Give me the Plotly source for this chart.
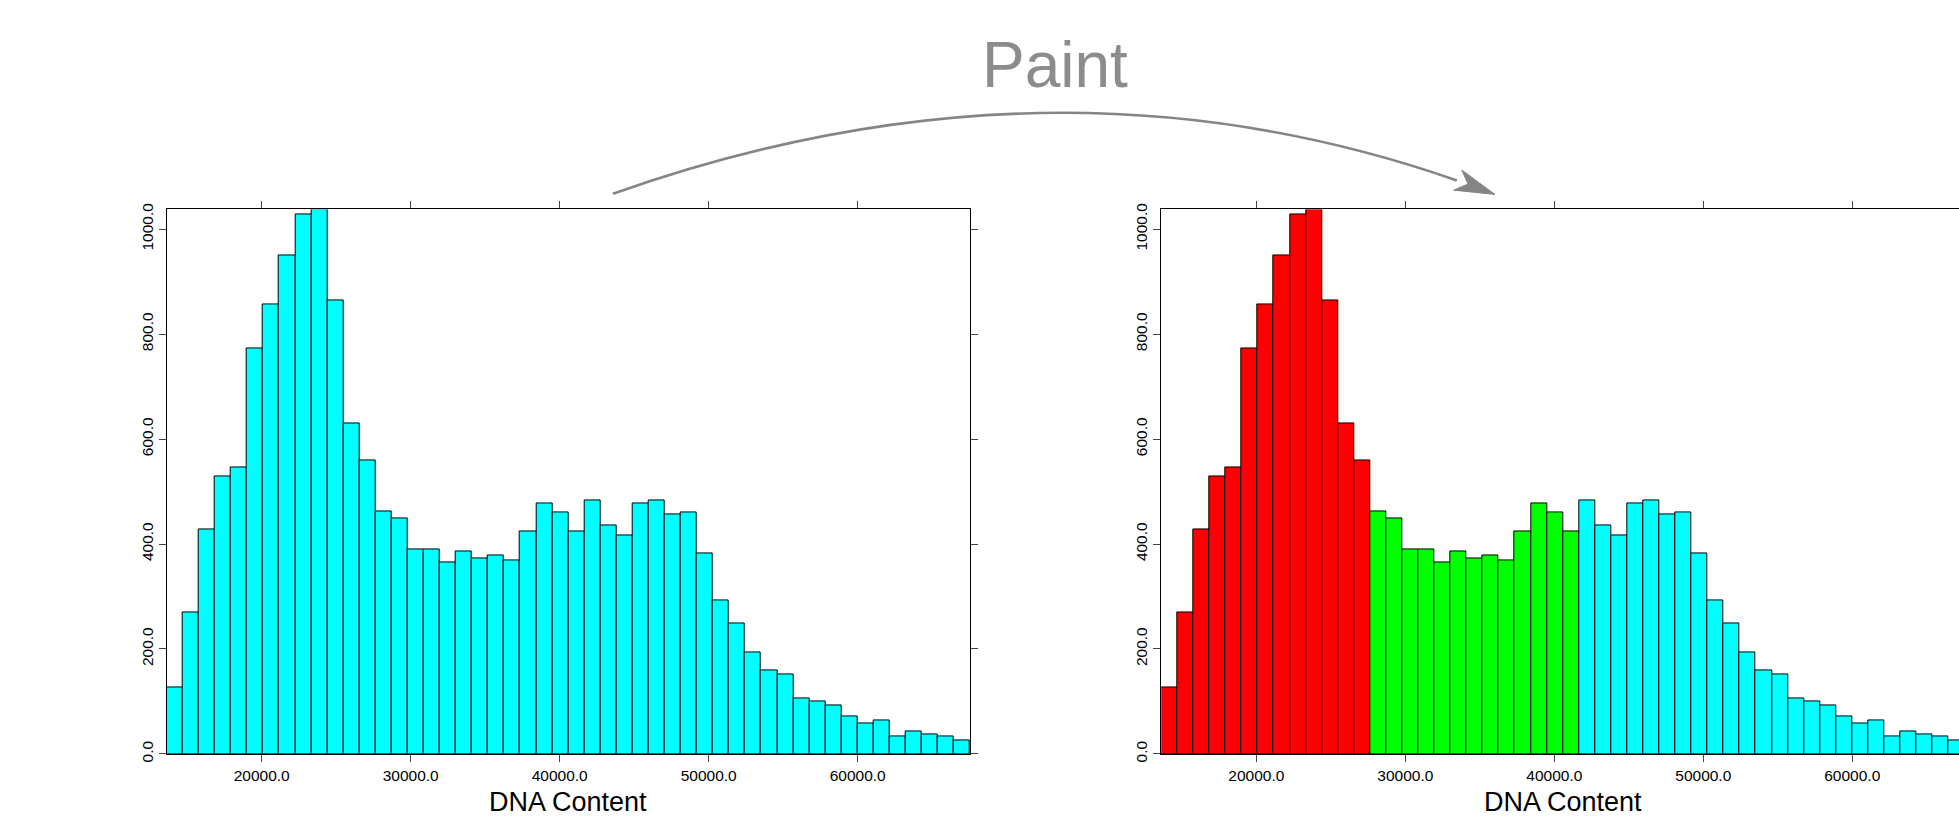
import plotly.graph_objects as go

# ---------------- data ----------------
counts = [126, 269, 428, 529, 546, 772, 856, 949, 1028, 1037,
          865, 630, 559, 462, 449, 390, 390, 365, 386, 373,
          378, 369, 424, 478, 461, 424, 483, 436, 416, 478,
          483, 457, 461, 382, 293, 248, 193, 159, 151, 105,
          100, 92, 71, 58, 63, 33, 42, 37, 33, 25]
bin_start = 13624.0
bin_width = 1078.3
x_ticks = [20000, 30000, 40000, 50000, 60000]
y_ticks = [0, 200, 400, 600, 800, 1000]
# painted gates on the right histogram: bin index boundaries and colours
gate_bounds = [0, 13, 26, 50]
gate_colors = ["#FF0000", "#00FF00", "#00FFFF"]
base_color = "#00FFFF"
x_title = "DNA Content"
arrow_text = "Paint"

# ---------------- geometry ----------------
W, H = 1959, 817


def px(x, y):
    return x / W, 1 - y / H


centers = [bin_start + (i + 0.5) * bin_width for i in range(len(counts))]
x_end_left = bin_start + len(counts) * bin_width
px_per_unit = (970 - 166.7) / (x_end_left - bin_start)
x_end_right = bin_start + (W - 1161.3) / px_per_unit
y_top = max(counts) + 0.5

fig = go.Figure()
line_style = dict(color="#000000", width=1)

fig.add_trace(go.Bar(x=centers, y=counts, width=[bin_width] * len(counts),
                     marker=dict(color=base_color, line=line_style),
                     xaxis="x", yaxis="y", showlegend=False, hoverinfo="x+y"))

for g in range(len(gate_colors)):
    a, b = gate_bounds[g], gate_bounds[g + 1]
    fig.add_trace(go.Bar(x=centers[a:b], y=counts[a:b], width=[bin_width] * (b - a),
                         marker=dict(color=gate_colors[g], line=line_style),
                         xaxis="x2", yaxis="y2", showlegend=False, hoverinfo="x+y"))

font = dict(family="Liberation Sans, Arial, sans-serif", size=15.5, color="#000000")
ax_common = dict(showline=True, linecolor="#000000", linewidth=1, ticks="outside",
                 ticklen=7, tickcolor="#444444", tickwidth=1, showgrid=False,
                 zeroline=False, tickfont=font)
ydom = [1 - 761 / H, 1 - 207 / H]

fig.update_layout(
    width=W, height=H, margin=dict(l=0, r=0, t=0, b=0),
    plot_bgcolor="white", paper_bgcolor="white", bargap=0, barmode="overlay",
    xaxis=dict(domain=[166.7 / W, 970 / W], range=[bin_start, x_end_left],
               tickvals=x_ticks, tickformat=".1f", mirror="ticks", anchor="y", **ax_common),
    yaxis=dict(domain=ydom, range=[0, y_top], tickvals=y_ticks, tickformat=".1f",
               tickangle=-90, mirror="ticks", anchor="x", **ax_common),
    xaxis2=dict(domain=[1161.3 / W, 1.0], range=[bin_start, x_end_right],
                tickvals=x_ticks, tickformat=".1f", mirror="ticks", anchor="y2", **ax_common),
    yaxis2=dict(domain=ydom, range=[0, y_top], tickvals=y_ticks, tickformat=".1f",
                tickangle=-90, mirror=False, anchor="x2", **ax_common),
)

# x-axis titles, sitting at the bottom edge like the original
for cx in [(166.7 + 970) / 2, (1161.3 + 1964.6) / 2]:
    xx, yy = px(cx, 794)
    fig.add_annotation(x=xx, y=yy, xref="paper", yref="paper", text=x_title,
                       showarrow=False, xanchor="center", yanchor="top", borderpad=0,
                       font=dict(family="Liberation Sans, Arial, sans-serif", size=27,
                                 color="#000000"))

# curved "Paint" arrow
P0 = (613.0, 191.0)
P1 = (1072.0, 26.0)
P2 = (1495.0, 191.7)
t = 0.955


def bez(t):
    return ((1 - t) ** 2 * P0[0] + 2 * (1 - t) * t * P1[0] + t * t * P2[0],
            (1 - t) ** 2 * P0[1] + 2 * (1 - t) * t * P1[1] + t * t * P2[1])


Q1 = (P0[0] + (P1[0] - P0[0]) * t, P0[1] + (P1[1] - P0[1]) * t)
Qe = bez(t)
a0, a1, a2 = px(*P0), px(*Q1), px(*Qe)
fig.add_shape(type="path", xref="paper", yref="paper",
              path=f"M {a0[0]},{a0[1]} Q {a1[0]},{a1[1]} {a2[0]},{a2[1]}",
              line=dict(color="#858585", width=2.6))

# arrow head
dx, dy = P2[0] - P1[0], P2[1] - P1[1]
n = (dx * dx + dy * dy) ** 0.5
ux, uy = dx / n, dy / n
nx, ny = -uy, ux
L, Wd, notch = 40.0, 11.0, 29.0
tip = P2
b1 = (tip[0] - L * ux + Wd * nx, tip[1] - L * uy + Wd * ny)
b2 = (tip[0] - L * ux - Wd * nx, tip[1] - L * uy - Wd * ny)
nt = (tip[0] - notch * ux, tip[1] - notch * uy)
pts = [px(*p) for p in [tip, b1, nt, b2]]
path = "M " + " L ".join(f"{p[0]},{p[1]}" for p in pts) + " Z"
fig.add_shape(type="path", xref="paper", yref="paper", path=path,
              fillcolor="#858585", line=dict(color="#858585", width=1))

px_, py_ = px(1055, 60)
fig.add_annotation(x=px_, y=py_, xref="paper", yref="paper", text=arrow_text,
                   showarrow=False, xanchor="center", yanchor="middle",
                   font=dict(family="Liberation Sans, Arial, sans-serif", size=64,
                             color="#8C8C8C"))

fig.write_html("out.html")
